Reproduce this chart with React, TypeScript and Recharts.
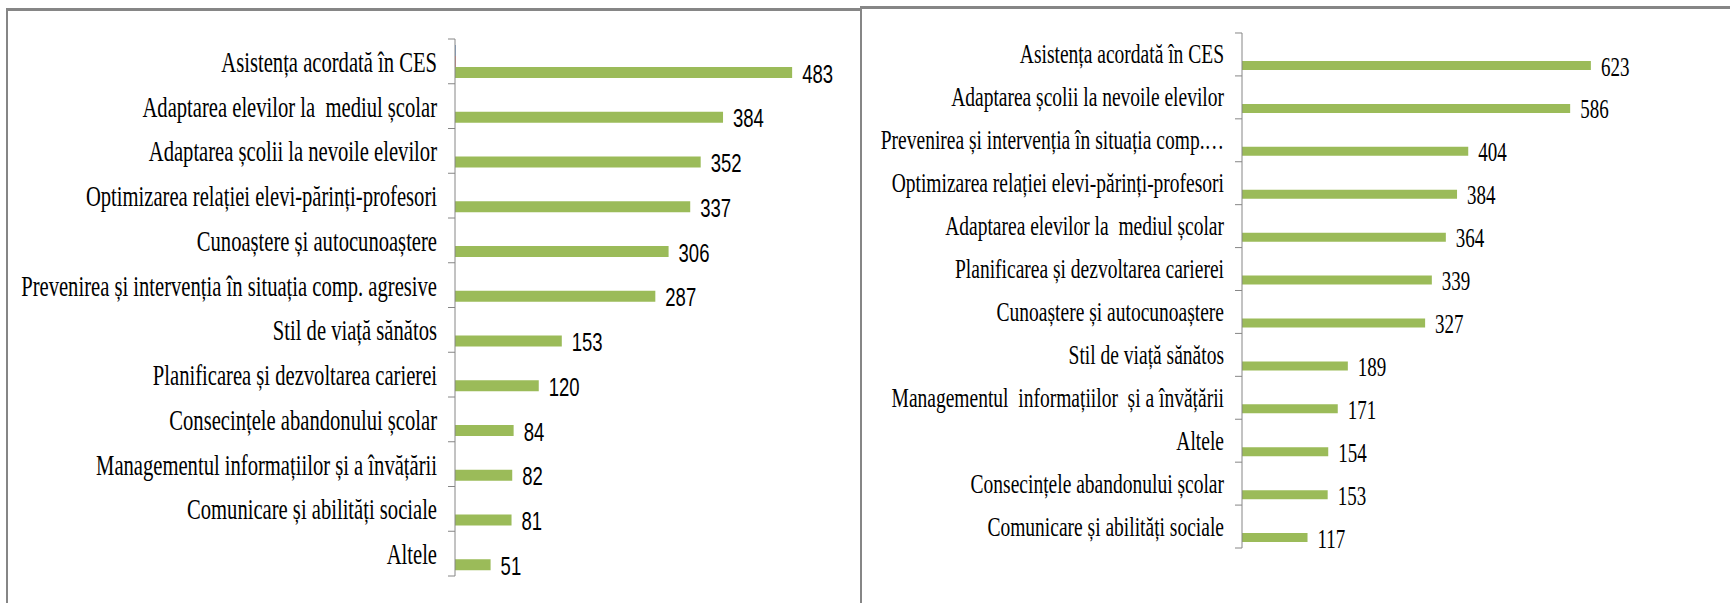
import { BarChart, Bar, XAxis, YAxis, LabelList } from "recharts";

// left chart
const leftCategories = [
  "Asistența acordată în CES",
  "Adaptarea elevilor la  mediul școlar",
  "Adaptarea școlii la nevoile elevilor",
  "Optimizarea relației elevi-părinți-profesori",
  "Cunoaștere și autocunoaștere",
  "Prevenirea și intervenția în situația comp. agresive",
  "Stil de viață sănătos",
  "Planificarea și dezvoltarea carierei",
  "Consecințele abandonului școlar",
  "Managementul informațiilor și a învățării",
  "Comunicare și abilități sociale",
  "Altele",
];
const leftValues = [483, 384, 352, 337, 306, 287, 153, 120, 84, 82, 81, 51];
const leftSeries1 = [1, 0, 0, 0, 0, 0, 0, 0, 0, 0, 0, 0];
const leftSeries2 = [1, 0, 0, 0, 0, 0, 0, 0, 0, 0, 0, 0];

// right chart
const rightCategories = [
  "Asistența acordată în CES",
  "Adaptarea școlii la nevoile elevilor",
  "Prevenirea și intervenția în situația comp.…",
  "Optimizarea relației elevi-părinți-profesori",
  "Adaptarea elevilor la  mediul școlar",
  "Planificarea și dezvoltarea carierei",
  "Cunoaștere și autocunoaștere",
  "Stil de viață sănătos",
  "Managementul  informațiilor  și a învățării",
  "Altele",
  "Consecințele abandonului școlar",
  "Comunicare și abilități sociale",
];
const rightValues = [623, 586, 404, 384, 364, 339, 327, 189, 171, 154, 153, 117];

const leftData = leftCategories.map((name, i) => ({
  name,
  a: leftSeries1[i],
  b: leftSeries2[i],
  v: leftValues[i],
}));
const rightData = rightCategories.map((name, i) => ({
  name,
  a: 0,
  b: 0,
  v: rightValues[i],
}));

const SERIF = '"Liberation Serif", "Times New Roman", "DejaVu Serif", serif';
const SANS = '"Liberation Sans", Arial, sans-serif';
const AXIS = "#868686";
const GREEN = "#9BBB59";

function CategoryTick(props: any) {
  const { x, y, payload, index, fontSize, half, count, dy, sy } = props;
  return (
    <g>
      <line x1={x - 7} x2={x} y1={y - half} y2={y - half} stroke={AXIS} />
      {index === count - 1 && (
        <line x1={x - 7} x2={x} y1={y + half} y2={y + half} stroke={AXIS} />
      )}
      <text
        transform={`translate(${x - 18},${y + dy}) scale(1,${sy})`}
        textAnchor="end"
        fill="#000"
        style={{ whiteSpace: "pre", fontFamily: SERIF, fontSize }}
      >
        {payload.value}
      </text>
    </g>
  );
}

const valueLabel =
  (font: string, size: number, sy: number) => (p: any) => {
    const vb = p.viewBox || {};
    const x = vb.x ?? p.x;
    const y = vb.y ?? p.y;
    const w = vb.width ?? p.width;
    const h = vb.height ?? p.height;
    if (p.value == null) return null;
    return (
      <text
        transform={`translate(${x + w + 10},${y + h / 2 + 10}) scale(1,${sy})`}
        fill="#000"
        style={{ fontFamily: font, fontSize: size }}
      >
        {p.value}
      </text>
    );
  };

export default function App() {
  return (
    <div
      style={{
        position: "absolute",
        left: 0,
        top: 0,
        width: 1730,
        height: 603,
        overflow: "hidden",
        background: "#fff",
      }}
    >
      {/* panel frames */}
      <div
        style={{
          position: "absolute",
          left: 6,
          top: 8,
          width: 855,
          height: 700,
          borderTop: `3px solid ${AXIS}`,
          borderLeft: `2px solid ${AXIS}`,
          boxSizing: "border-box",
        }}
      />
      <div
        style={{
          position: "absolute",
          left: 860,
          top: 6,
          width: 900,
          height: 700,
          borderTop: `3px solid ${AXIS}`,
          borderLeft: `2px solid ${AXIS}`,
          boxSizing: "border-box",
        }}
      />

      <div style={{ position: "absolute", left: 0, top: 0 }}>
        <BarChart
          width={861}
          height={603}
          data={leftData}
          layout="vertical"
          margin={{ top: 39, right: 57, bottom: 27, left: 0 }}
          barGap={0}
        >
          <XAxis type="number" domain={[0, 500]} hide />
          <YAxis
            type="category"
            dataKey="name"
            width={455}
            tickSize={0}
            tickMargin={0}
            tickLine={false}
            axisLine={{ stroke: AXIS }}
            interval={0}
            tick={
              <CategoryTick
                fontSize={20.6}
                half={22.375}
                count={leftCategories.length}
                dy={10.5}
                sy={1.39}
              />
            }
          />
          <Bar dataKey="a" fill="#4F81BD" barSize={11} isAnimationActive={false} />
          <Bar dataKey="b" fill="#C0504D" barSize={11} isAnimationActive={false} />
          <Bar dataKey="v" fill={GREEN} barSize={11} isAnimationActive={false}>
            <LabelList dataKey="v" content={valueLabel(SANS, 18.5, 1.38)} />
          </Bar>
        </BarChart>
      </div>

      <div style={{ position: "absolute", left: 861, top: 0 }}>
        <BarChart
          width={869}
          height={603}
          data={rightData}
          layout="vertical"
          margin={{ top: 33, right: 96, bottom: 55, left: 0 }}
          barGap={2}
        >
          <XAxis type="number" domain={[0, 700]} hide />
          <YAxis
            type="category"
            dataKey="name"
            width={381}
            tickSize={0}
            tickMargin={0}
            tickLine={false}
            axisLine={{ stroke: AXIS }}
            interval={0}
            tick={
              <CategoryTick
                fontSize={19.5}
                half={21.46}
                count={rightCategories.length}
                dy={9}
                sy={1.4}
              />
            }
          />
          <Bar dataKey="a" fill="#4F81BD" barSize={9} isAnimationActive={false} />
          <Bar dataKey="b" fill="#C0504D" barSize={9} isAnimationActive={false} />
          <Bar dataKey="v" fill={GREEN} barSize={9} isAnimationActive={false}>
            <LabelList dataKey="v" content={valueLabel(SERIF, 19, 1.4)} />
          </Bar>
        </BarChart>
      </div>
    </div>
  );
}
